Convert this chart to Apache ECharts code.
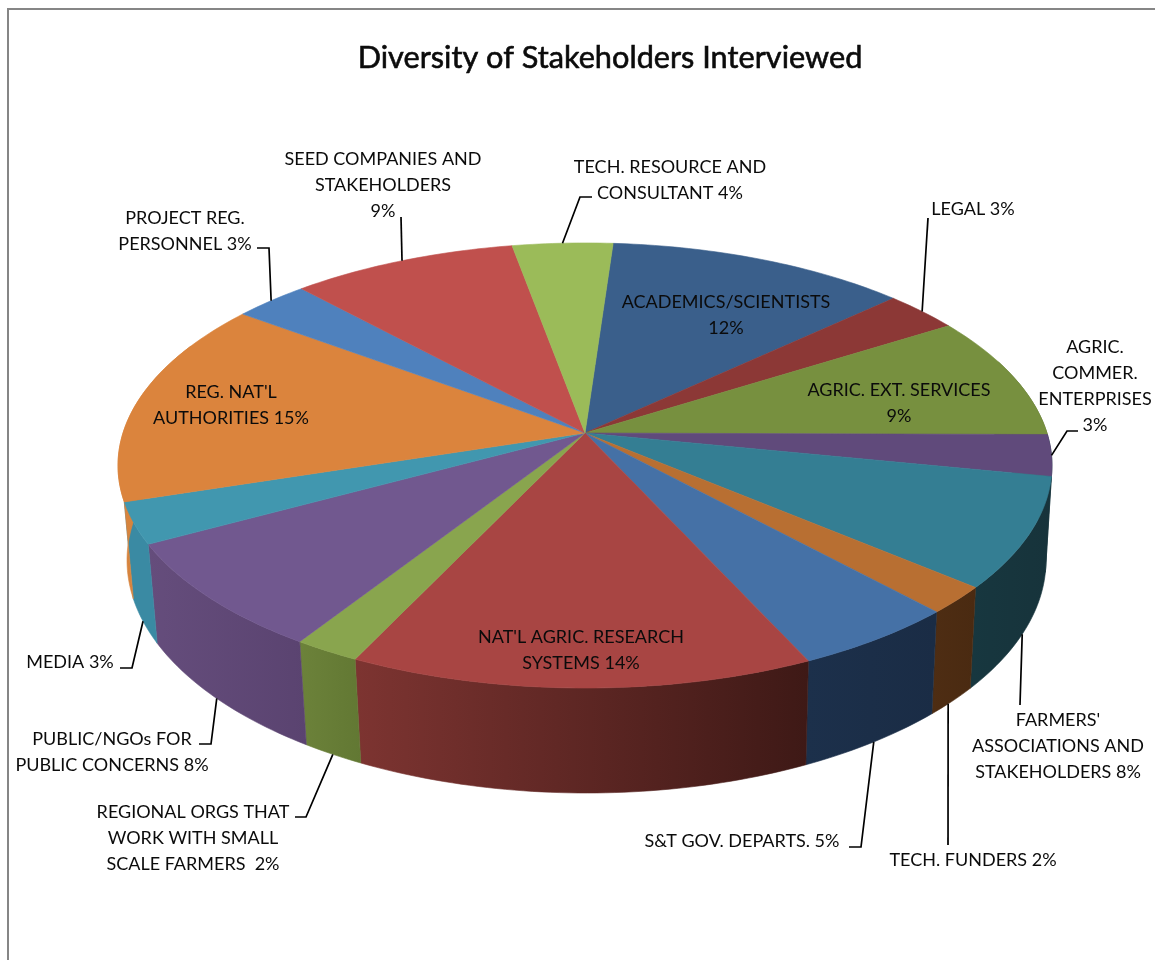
<!DOCTYPE html>
<html>
<head>
<meta charset="utf-8">
<style>html,body{margin:0;padding:0;background:#fff}#chart{width:1155px;height:960px}</style>
<script src="https://cdn.jsdelivr.net/npm/echarts@6/dist/echarts.min.js"></script>
</head>
<body>
<div id="chart"></div>
<script>
// Stakeholder groups, clockwise from the top of the pie.
const categories = [
  'ACADEMICS/SCIENTISTS', 'LEGAL', 'AGRIC. EXT. SERVICES', 'AGRIC. COMMER. ENTERPRISES',
  "FARMERS' ASSOCIATIONS AND STAKEHOLDERS", 'TECH. FUNDERS', 'S&T GOV. DEPARTS.',
  "NAT'L AGRIC. RESEARCH SYSTEMS", 'REGIONAL ORGS THAT WORK WITH SMALL SCALE FARMERS',
  'PUBLIC/NGOs FOR PUBLIC CONCERNS', 'MEDIA', "REG. NAT'L AUTHORITIES",
  'PROJECT REG. PERSONNEL', 'SEED COMPANIES AND STAKEHOLDERS', 'TECH. RESOURCE AND CONSULTANT'
];
const shares = [12, 3, 9, 3, 8, 2, 5, 14, 2, 8, 3, 15, 3, 9, 4];
const labelTexts = [
  'ACADEMICS/SCIENTISTS\n12%', 'LEGAL 3%', 'AGRIC. EXT. SERVICES\n9%', 'AGRIC.\nCOMMER.\nENTERPRISES\n3%',
  "FARMERS'\nASSOCIATIONS AND\nSTAKEHOLDERS 8%", 'TECH. FUNDERS 2%', 'S&T GOV. DEPARTS. 5%',
  "NAT'L AGRIC. RESEARCH\nSYSTEMS 14%", 'REGIONAL ORGS THAT\nWORK WITH SMALL\nSCALE FARMERS  2%',
  'PUBLIC/NGOs FOR\nPUBLIC CONCERNS 8%', 'MEDIA 3%', "REG. NAT'L\nAUTHORITIES 15%",
  'PROJECT REG.\nPERSONNEL 3%', 'SEED COMPANIES AND\nSTAKEHOLDERS\n9%', 'TECH. RESOURCE AND\nCONSULTANT 4%'
];

// Colours of the top face and of the rim (left and right end of each rim piece).
const topColors = ['#3a5f8b', '#8c3836', '#77903f', '#604a7b', '#347e93', '#b86f32', '#4571a6', '#a84543',
  '#89a54e', '#71588f', '#4197af', '#db843d', '#4f81bd', '#c0504d', '#9bbb59'];
const rimColors = [
  ['#2a4565', '#2a4565'], ['#662826', '#662826'], ['#566a2c', '#566a2c'], ['#17373f', '#17373f'],
  ['#17373f', '#17333b'], ['#4e2d13', '#4a2a11'], ['#1c304b', '#1a2c45'], ['#7d3431', '#3e1916'],
  ['#6c823a', '#627833'], ['#654d7c', '#5a4370'], ['#3a8aa3', '#3a8aa3'], ['#d8853f', '#cf7d37'],
  ['#3b618f', '#3b618f'], ['#8f3c39', '#8f3c39'], ['#748c42', '#748c42']
];

// Perspective model of the disc: screen position of a rim or interior point.
const view = { cx: 585, cy: 433, ax: 462, ay: 217.8, tilt: 0.146, drop: 95.4, shrink: 0.016, skew: 1.5 };
const startAngle = 4;
const total = shares.reduce((a, b) => a + b, 0);

function project(deg, radius, depth) {
  const t = deg * Math.PI / 180;
  const u = radius * Math.sin(t), v = radius * Math.cos(t);
  const w = 1 + view.tilt * v + view.shrink * depth;
  return [view.cx + view.skew * depth + view.ax * u / w, view.cy + (-view.ay * v + view.drop * depth) / w];
}
function sliceRange(i) {
  let before = 0;
  for (let k = 0; k < i; k++) before += shares[k];
  return [startAngle + before / total * 360, startAngle + (before + shares[i]) / total * 360];
}
function arc(a0, a1, depth) {
  const n = Math.max(2, Math.ceil(Math.abs(a1 - a0)));
  const pts = [];
  for (let j = 0; j <= n; j++) pts.push(project(a0 + (a1 - a0) * j / n, 1, depth));
  return pts;
}

// Label block centres and leader-line bends; leaders start on the slice's own rim.
const labelCentres = [[726, 315], [973, 209], [899, 403], [1095, 386], [1058, 746], [973, 860], [742, 841],
  [581, 650], [193, 838], [112, 752], [70, 662], [231, 405], [185, 231], [383, 185], [670, 180]];
const leaderBends = [
  null, [[928, 218]], null, [[1067, 431], [1078, 431]], [[1020, 705]], [[948, 845]],
  [[861, 847], [849, 847]], null, [[306, 817], [295, 817]], [[211, 744], [199, 744]],
  [[132, 668], [120, 668]], null, [[269, 248], [257, 248]], [[401, 217]], [[580, 197], [592, 197]]
];
const leaderDepth = [0, 0, 0, 0, 1, 1, 1, 0, 1, 1, 1, 0, 0, 0, 0];
const leaderAlong = [0.5, 0.5, 0.5, 0.5, 0.52, 0.6, 0.5, 0.5, 0.5, 0.5, 0.5, 0.5, 0.5, 0.5, 0.5];

const rows = shares.map((v, i) => [i, v]);
const labelFont = 'Lato, "Liberation Sans", sans-serif';

const chart = echarts.init(document.getElementById('chart'), null, { renderer: 'canvas' });
chart.setOption({
  animation: false,
  backgroundColor: '#ffffff',
  title: {
    text: 'Diversity of Stakeholders Interviewed',
    left: 605, top: 38, textAlign: 'center',
    textStyle: { fontFamily: labelFont, fontSize: 30.7, fontWeight: 'normal', color: '#0b0b0b',
      textBorderColor: '#0b0b0b', textBorderWidth: 0.6 }
  },
  graphic: [{
    type: 'rect', silent: true,
    shape: { x: 8, y: 9, width: 1400, height: 1200 },
    style: { fill: 'none', stroke: '#868686', lineWidth: 2 }
  }],
  series: [
    {
      // Outer wall of the disc: the camera-facing part of each slice plus a margin hidden by the top face.
      type: 'custom', coordinateSystem: 'none', z: 2, data: rows, silent: true,
      renderItem(params, api) {
        const i = api.value(0);
        const [a0, a1] = sliceRange(i);
        const from = Math.max(a0, 70), to = Math.min(a1, 295);
        if (to <= from) return { type: 'group', children: [] };
        const upper = arc(from, to, 0), lower = arc(from, to, 1);
        const pts = upper.concat(lower.slice().reverse());
        const xs = pts.map(p => p[0]);
        const grad = {
          type: 'linear', global: true,
          x: Math.min(...xs), y: 0, x2: Math.max(...xs), y2: 0,
          colorStops: [{ offset: 0, color: rimColors[i][0] }, { offset: 1, color: rimColors[i][1] }]
        };
        return { type: 'polygon', shape: { points: pts }, style: { fill: grad, stroke: grad, lineWidth: 0.6 } };
      }
    },
    {
      // Top face of the disc.
      type: 'custom', coordinateSystem: 'none', z: 3, data: rows, silent: true,
      renderItem(params, api) {
        const i = api.value(0);
        const [a0, a1] = sliceRange(i);
        const pts = [project(0, 0, 0)].concat(arc(a0, a1, 0));
        return { type: 'polygon', shape: { points: pts }, style: { fill: topColors[i], stroke: topColors[i], lineWidth: 0.6 } };
      }
    },
    {
      // Leader lines and value labels.
      type: 'custom', coordinateSystem: 'none', z: 4, data: rows, silent: true,
      renderItem(params, api) {
        const i = api.value(0);
        const children = [];
        if (leaderBends[i]) {
          const [a0, a1] = sliceRange(i);
          const anchor = project(a0 + (a1 - a0) * leaderAlong[i], 1, leaderDepth[i]);
          children.push({
            type: 'polyline',
            shape: { points: [anchor].concat(leaderBends[i]) },
            style: { fill: 'none', stroke: '#000000', lineWidth: 1.7 }
          });
        }
        children.push({
          type: 'text',
          style: {
            x: labelCentres[i][0], y: labelCentres[i][1],
            text: labelTexts[i], align: 'center', verticalAlign: 'middle',
            font: '18px ' + labelFont, lineHeight: 26, fill: '#0b0b0b'
          }
        });
        return { type: 'group', children };
      }
    }
  ]
});
</script>
</body>
</html>
